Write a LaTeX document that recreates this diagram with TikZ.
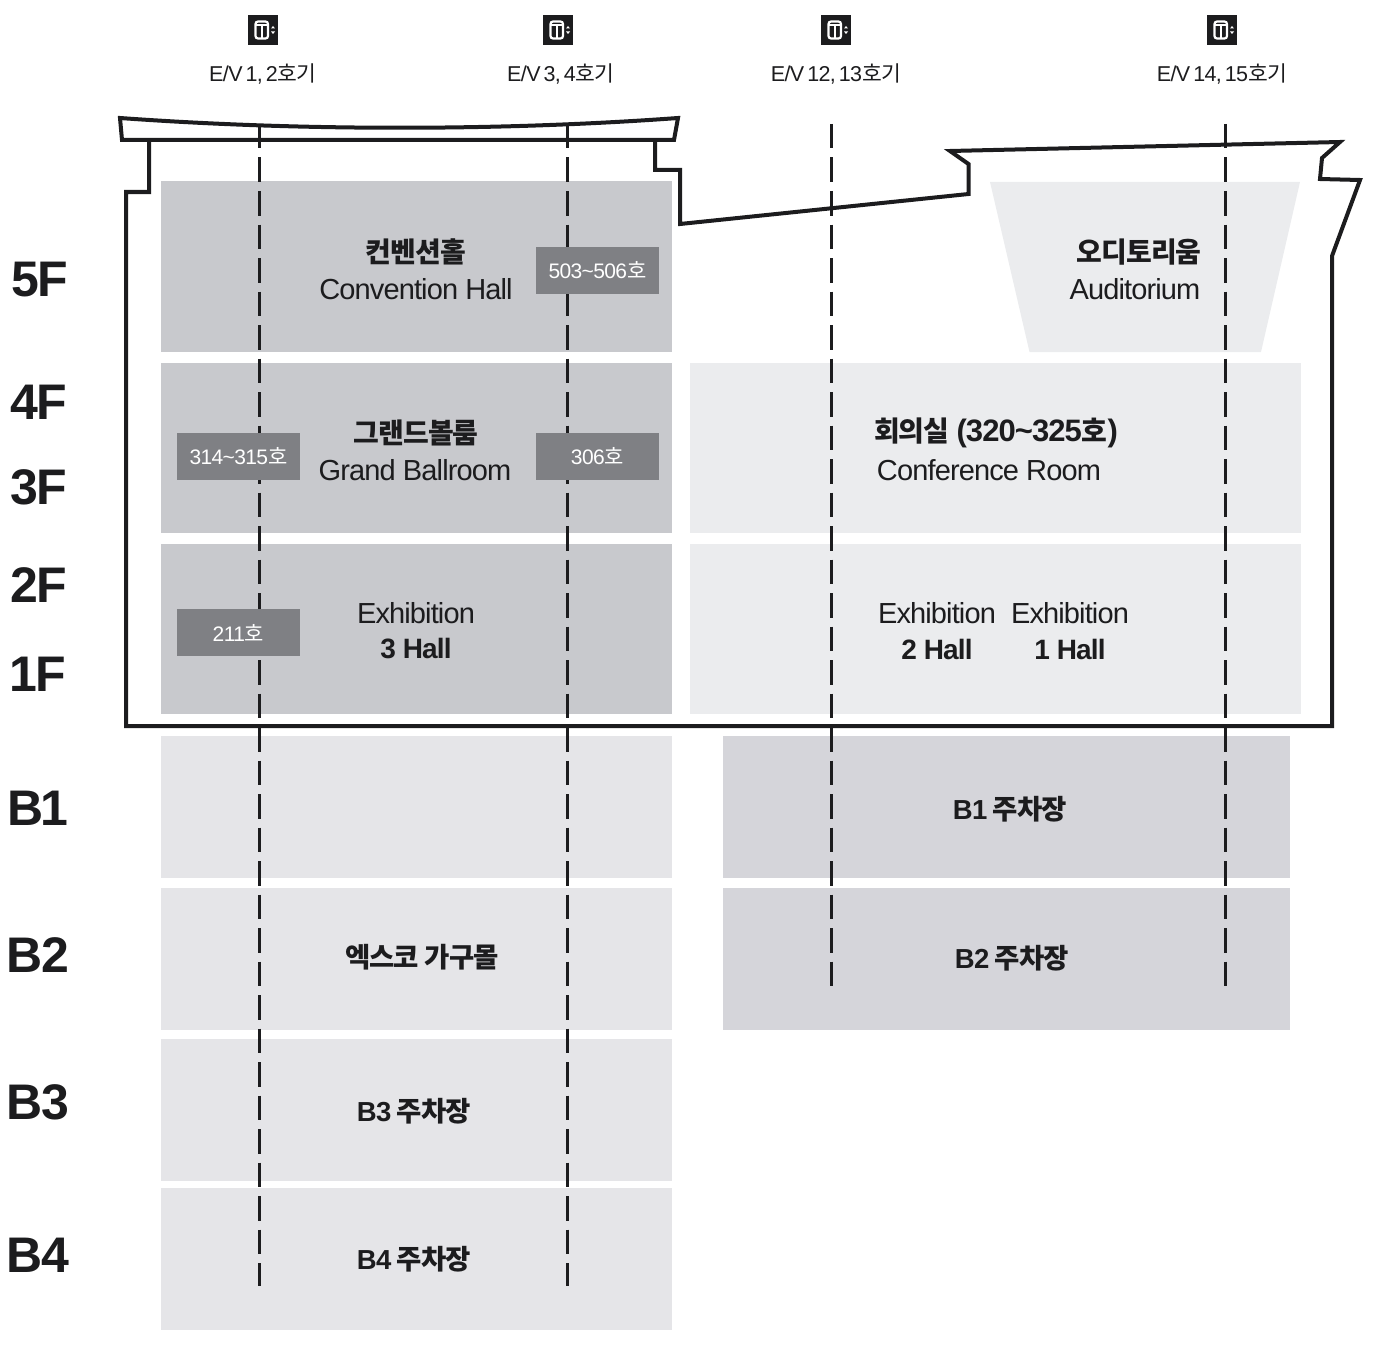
\documentclass[tikz,border=0pt]{standalone}
\usepackage{fontspec}
\setmainfont{Liberation Sans}[LetterSpace=-3]
\newfontfamily\kr{Noto Sans CJK KR}[LetterSpace=-3]
\newcommand{\evfont}{\fontsize{21.5}{21.5}\selectfont\setlength{\spaceskip}{0.14em}}
\newcommand{\parkfont}{\fontsize{27.5}{27.5}\selectfont\bfseries\setlength{\spaceskip}{0.2em}}
\definecolor{inkdark}{HTML}{1C1C1E}
\definecolor{hallgray}{HTML}{C8C9CD}
\definecolor{roomlight}{HTML}{EBECEE}
\definecolor{basegray}{HTML}{E5E5E8}
\definecolor{parkgray}{HTML}{D5D5DA}
\definecolor{taggray}{HTML}{7F8084}
\tikzset{
  block/.style={inner sep=0pt,outer sep=0pt,minimum width=#1},
  floorlabel/.style={font=\fontsize{50}{50}\selectfont\bfseries,text=inkdark},
  evlabel/.style={font=\evfont,text=inkdark},
  krlabel/.style={font=\fontsize{28}{28}\selectfont\bfseries,text=inkdark},
  parklabel/.style={font=\parkfont,text=inkdark},
  enlabel/.style={font=\fontsize{29}{29}\selectfont,text=inkdark},
  tag/.style={fill=taggray,text=white,inner sep=0pt,outer sep=0pt,minimum width=123pt,minimum height=47pt,font=\fontsize{21}{21}\selectfont},
  shaft/.style={line width=3pt,draw=inkdark,dash pattern=on 24.5pt off 9pt},
  outline/.style={line width=4pt,draw=inkdark,line join=miter}
}
\begin{document}
\begin{tikzpicture}[x=1pt,y=-1pt]
\useasboundingbox (0,0) rectangle (1374,1362);

\node[block=511pt,minimum height=170pt,fill=hallgray] (room5) at (416.5,266.5) {};
\node[block=511pt,minimum height=170pt,fill=hallgray] (room3) at (416.5,448) {};
\node[block=511pt,minimum height=170pt,fill=hallgray] (room1) at (416.5,629) {};
\node[block=611pt,minimum height=170pt,fill=roomlight] (conf) at (995.5,448) {};
\node[block=611pt,minimum height=170pt,fill=roomlight] (exhib) at (995.5,629) {};
\fill[roomlight] (990,182) -- (1300,182) -- (1261,352) -- (1029.5,352) -- cycle;

\node[block=511pt,minimum height=142pt,fill=basegray] (base1) at (416.5,807) {};
\node[block=511pt,minimum height=142pt,fill=basegray] (base2) at (416.5,959) {};
\node[block=511pt,minimum height=142pt,fill=basegray] (base3) at (416.5,1110) {};
\node[block=511pt,minimum height=142pt,fill=basegray] (base4) at (416.5,1259) {};
\node[block=567pt,minimum height=142pt,fill=parkgray] (park1) at (1006.5,807) {};
\node[block=567pt,minimum height=142pt,fill=parkgray] (park2) at (1006.5,959) {};

\draw[outline] (120,118) .. controls (300,131) and (500,131) .. (678,118) -- (674,140) -- (122,140) -- cycle;
\draw[outline] (149,140) -- (149,192) -- (126,192) -- (126,726) -- (1332,726) -- (1332,256) -- (1360,180) -- (1320,179) -- (1322,158) -- (1340,142) -- (950,151) -- (968.5,164) -- (968.5,194) -- (680,224) -- (680,170) -- (655,170) -- (655,140);

\foreach \name/\xpos/\ybot in {a/259/1286,b/567/1286,c/831/986,d/1225/986}{
  \coordinate (top\name) at (\xpos,124);
  \coordinate (bot\name) at (\xpos,\ybot);
  \draw[shaft] (top\name) -- (bot\name);
}

\node[tag] (tag503) at (597.5,270.5) {503\textasciitilde 506{\kr 호}};
\node[tag] (tag306) at (597.5,456.5) {306{\kr 호}};
\node[tag] (tag314) at (238.5,456.5) {314\textasciitilde 315{\kr 호}};
\node[tag] (tag211) at (238.5,632.5) {211{\kr 호}};

\foreach \name/\xpos/\xtxt/\txt in {a/263/263/{E/V 1, 2},b/558/561/{E/V 3, 4},c/836/836/{E/V 12, 13},d/1222/1222/{E/V 14, 15}}{
  \node[fill=inkdark,minimum size=30pt,inner sep=0pt] (icon\name) at (\xpos,30) {};
  \draw[white,line width=2.2pt,rounded corners=2.5pt] (\xpos-7.5,21.5) rectangle (\xpos+5,38.5);
  \draw[white,line width=2pt] (\xpos-7.5,25.5) -- (\xpos+5,25.5) (\xpos-1.2,25.5) -- (\xpos-1.2,38.5);
  \fill[white] (\xpos+8,28.5) -- (\xpos+10,26) -- (\xpos+12,28.5) -- cycle (\xpos+8,31.5) -- (\xpos+10,34) -- (\xpos+12,31.5) -- cycle;
  \node[evlabel] (ev\name) at (\xtxt,73.5) {\txt{\kr 호기}};
}

\node[floorlabel] (f5) at (39.5,280) {5F};
\node[floorlabel] (f4) at (39,402) {4F};
\node[floorlabel] (f3) at (39,487) {3F};
\node[floorlabel] (f2) at (39,585) {2F};
\node[floorlabel] (f1) at (38,674) {1\kern-2pt F};
\node[floorlabel] (fb1) at (38,808) {B\kern-3pt 1};
\node[floorlabel] (fb2) at (38,955) {B2};
\node[floorlabel] (fb3) at (38,1102) {B3};
\node[floorlabel] (fb4) at (38,1255) {B4};

\node[krlabel] (convkr) at (416,252) {\kr 컨벤션홀};
\node[enlabel] (conven) at (416,289) {Convention Hall};
\node[krlabel] (audikr) at (1139,252) {\kr 오디토리움};
\node[enlabel] (audien) at (1135,289) {Auditorium};
\node[krlabel] (ballkr) at (416,433) {\kr 그랜드볼룸};
\node[enlabel] (ballen) at (415,470) {Grand Ballroom};
\node[krlabel] (confkr) at (996,432.5) {{\kr 회의실} {\fontsize{31}{31}\selectfont (320\textasciitilde 325}{\kr 호}{\fontsize{31}{31}\selectfont )}};
\node[enlabel] (confen) at (989,470) {Conference Room};
\node[enlabel] (ex3en) at (416,613) {Exhibition};
\node[krlabel] (ex3kr) at (416,649) {3 Hall};
\node[enlabel] (ex2en) at (937,613) {Exhibition};
\node[krlabel] (ex2kr) at (937,649) {2 Hall};
\node[enlabel] (ex1en) at (1070,613) {Exhibition};
\node[krlabel] (ex1kr) at (1070,649) {1 Hall};
\node[parklabel] (parkb1) at (1010,809) {B1 {\kr 주차장}};
\node[parklabel] (parkb2) at (1012,958) {B2 {\kr 주차장}};
\node[parklabel] (mall) at (422,957) {\kr 엑스코 가구몰};
\node[parklabel] (parkb3) at (414,1111) {B3 {\kr 주차장}};
\node[parklabel] (parkb4) at (414,1259) {B4 {\kr 주차장}};
\end{tikzpicture}
\end{document}
